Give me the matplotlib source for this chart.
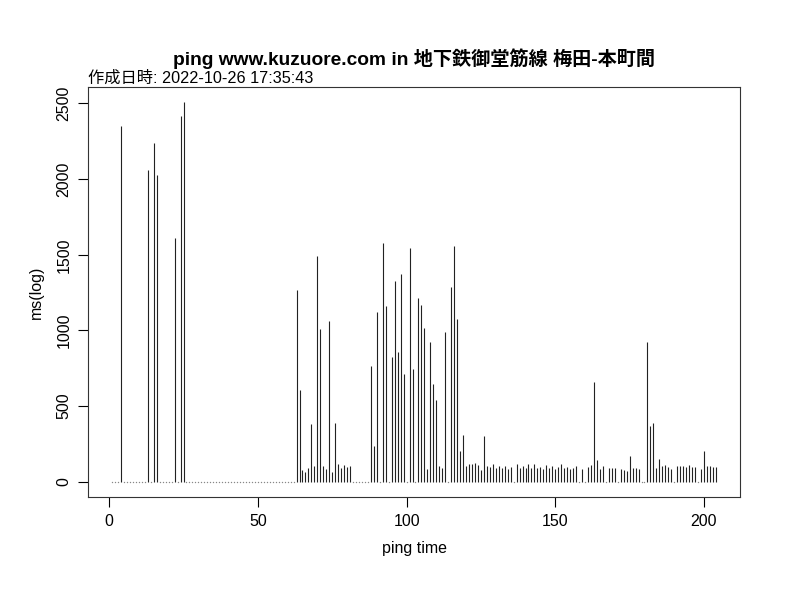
import numpy as np
import matplotlib
matplotlib.use("Agg")
import matplotlib.pyplot as plt

plt.rcParams['font.family'] = ['Liberation Sans', 'Noto Sans CJK JP', 'DejaVu Sans']

title = "ping www.kuzuore.com in 地下鉄御堂筋線 梅田-本町間"
subtitle = "作成日時: 2022-10-26 17:35:43"
xlabel = "ping time"
ylabel = "ms(log)"

# 応答時間 (0 = タイムアウト)
ping_ms = [
    0, 0, 0, 2350, 0, 0, 0, 0, 0, 0,                      # 1-10
    0, 0, 2062, 0, 2238, 2029, 0, 0, 0, 0,                # 11-20
    0, 1612, 0, 2420, 2508, 0, 0, 0, 0, 0,                # 21-30
    0, 0, 0, 0, 0, 0, 0, 0, 0, 0,                         # 31-40
    0, 0, 0, 0, 0, 0, 0, 0, 0, 0,                         # 41-50
    0, 0, 0, 0, 0, 0, 0, 0, 0, 0,                         # 51-60
    0, 0, 1266, 604, 80, 62, 93, 380, 102, 1489,          # 61-70
    1010, 102, 86, 1060, 65, 390, 117, 91, 111, 100,      # 71-80
    104, 0, 0, 0, 0, 0, 0, 763, 237, 1122,                # 81-90
    0, 1580, 1162, 0, 825, 1328, 856, 1376, 712, 0,       # 91-100
    1546, 747, 0, 1211, 1169, 1013, 84, 926, 649, 538,    # 101-110
    102, 89, 991, 0, 1290, 1557, 1078, 205, 309, 102,     # 111-120
    117, 119, 124, 108, 80, 302, 106, 100, 115, 93,       # 121-130
    102, 91, 102, 82, 97, 0, 119, 91, 106, 91,            # 131-140
    119, 91, 117, 88, 100, 86, 111, 88, 104, 82,          # 141-150
    95, 119, 88, 100, 85, 88, 103, 0, 86, 0,              # 151-160
    95, 109, 662, 141, 84, 102, 0, 93, 93, 93,            # 161-170
    0, 86, 80, 71, 168, 91, 91, 86, 0, 0,                 # 171-180
    925, 366, 386, 91, 150, 104, 113, 100, 82, 0,         # 181-190
    104, 102, 102, 97, 111, 100, 100, 0, 86, 203,         # 191-200
    102, 102, 97, 100,                                    # 201-204
]

seq = np.arange(1, len(ping_ms) + 1)
vals = np.array(ping_ms, dtype=float)

fig = plt.figure(figsize=(8, 6), dpi=100)
ax = fig.add_axes([0.11, 0.1717, 0.815, 0.6833])

ok = vals > 0
ax.vlines(seq[ok], 0, vals[ok], colors='#222222', linewidth=0.8)
ax.plot(seq[~ok], vals[~ok], 'o', ms=1.0, mew=0, color='#888888')

ax.margins(x=0.04, y=0.04)
ax.set_xticks([0, 50, 100, 150, 200])
ax.set_yticks([0, 500, 1000, 1500, 2000, 2500])
ax.tick_params(direction='out', length=7, width=0.8, labelsize=11.5, pad=5)
for lab in ax.get_yticklabels():
    lab.set_rotation(90)
    lab.set_va('center')
for sp in ax.spines.values():
    sp.set_linewidth(0.8)
    sp.set_color('#333333')

ax.set_xlabel(xlabel, fontsize=11.5, labelpad=9)
ax.set_ylabel(ylabel, fontsize=11.5, labelpad=9)

fig.text(0.5175, 0.903, title, ha='center', va='center', fontsize=13.8, fontweight='bold')
ax.text(0, 1.003, subtitle, transform=ax.transAxes, ha='left', va='bottom', fontsize=11.7)

fig.savefig("out.png", dpi=100)
